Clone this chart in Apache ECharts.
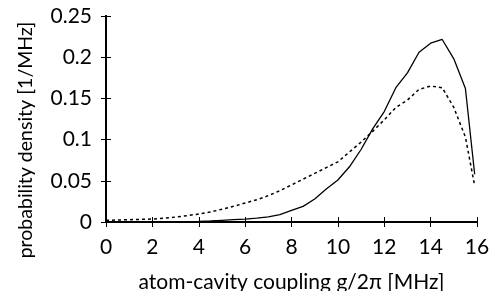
<!DOCTYPE html>
<html>
<head>
<meta charset="utf-8">
<script src="https://cdn.jsdelivr.net/npm/echarts@6/dist/echarts.min.js"></script>
<style>
html, body { margin: 0; padding: 0; background: #fff; }
#chart { width: 497px; height: 291px; }
</style>
</head>
<body>
<div id="chart"></div>
<script>
// coupling g/2pi [MHz]
var gValues = [0, 0.5, 1, 1.5, 2, 2.5, 3, 3.5, 4, 4.5, 5, 5.5, 6, 6.5, 7, 7.5, 8, 8.5, 9, 9.5,
    10, 10.5, 11, 11.5, 12, 12.5, 13, 13.5, 14, 14.5, 15, 15.5, 15.9];
// solid curve
var solidDensity = [0, 0, 0, 0, 0, 0.0001, 0.0002, 0.0004, 0.0007, 0.0012, 0.002, 0.0028, 0.0036, 0.0048, 0.0063, 0.009,
    0.014, 0.019, 0.028, 0.040, 0.051, 0.067, 0.088, 0.113, 0.134, 0.163, 0.181, 0.206, 0.217, 0.2215,
    0.198, 0.162, 0.058];
// dotted curve
var dottedDensity = [0.002, 0.0024, 0.0028, 0.0032, 0.0036, 0.0046, 0.006, 0.0077, 0.0097, 0.012, 0.0155, 0.019,
    0.023, 0.027, 0.032, 0.038, 0.045, 0.052, 0.059, 0.066, 0.073, 0.085, 0.097, 0.110, 0.124, 0.139,
    0.148, 0.161, 0.165, 0.163, 0.139, 0.103, 0.044];
var xTicks = [0, 2, 4, 6, 8, 10, 12, 14, 16];
var yTicks = [0, 0.05, 0.1, 0.15, 0.2, 0.25];

function pairs(xs, ys) {
    return xs.map(function (x, i) { return [x, ys[i]]; });
}

var myChart = echarts.init(document.getElementById('chart'));
var font = 'Lato';
var axisLine = { show: true, lineStyle: { color: '#000', width: 2 } };
var tick = { show: true, inside: true, length: 5, lineStyle: { color: '#000', width: 1 } };

var option = {
    animation: false,
    grid: { left: 106, right: 20, top: 16, bottom: 69, outerBoundsMode: 'none' },
    xAxis: [
        {
            type: 'value', min: xTicks[0], max: xTicks[xTicks.length - 1], interval: 2,
            name: 'atom-cavity coupling g/2π [MHz]',
            nameLocation: 'middle', nameGap: 50,
            nameTextStyle: { fontFamily: font, fontSize: 21, color: '#000' },
            axisLine: axisLine, axisTick: tick,
            axisLabel: { fontFamily: font, fontSize: 21, color: '#000', margin: 15 },
            splitLine: { show: false }
        },
        {
            type: 'value', min: xTicks[0], max: xTicks[xTicks.length - 1], interval: 2, position: 'top',
            axisLine: axisLine, axisTick: tick, axisLabel: { show: false }, splitLine: { show: false }
        }
    ],
    yAxis: [
        {
            type: 'value', min: yTicks[0], max: yTicks[yTicks.length - 1], interval: 0.05,
            name: 'probability density [1/MHz]',
            nameLocation: 'middle', nameGap: 70, nameRotate: 90,
            nameTextStyle: { fontFamily: font, fontSize: 19.5, color: '#000', padding: [0, 42, 0, 0] },
            axisLine: axisLine, axisTick: tick,
            axisLabel: {
                fontFamily: font, fontSize: 21, color: '#000', margin: 14,
                formatter: function (v) { return String(+v.toFixed(2)); }
            },
            splitLine: { show: false }
        },
        {
            type: 'value', min: yTicks[0], max: yTicks[yTicks.length - 1], interval: 0.05, position: 'right',
            axisLine: axisLine, axisTick: tick, axisLabel: { show: false }, splitLine: { show: false }
        }
    ],
    series: [
        {
            type: 'line', data: pairs(gValues, dottedDensity), showSymbol: false,
            lineStyle: { color: '#000', width: 1.5, type: [3, 3] }
        },
        {
            type: 'line', data: pairs(gValues, solidDensity), showSymbol: false,
            lineStyle: { color: '#000', width: 1.3 }
        }
    ]
};

myChart.setOption(option);
</script>
</body>
</html>
